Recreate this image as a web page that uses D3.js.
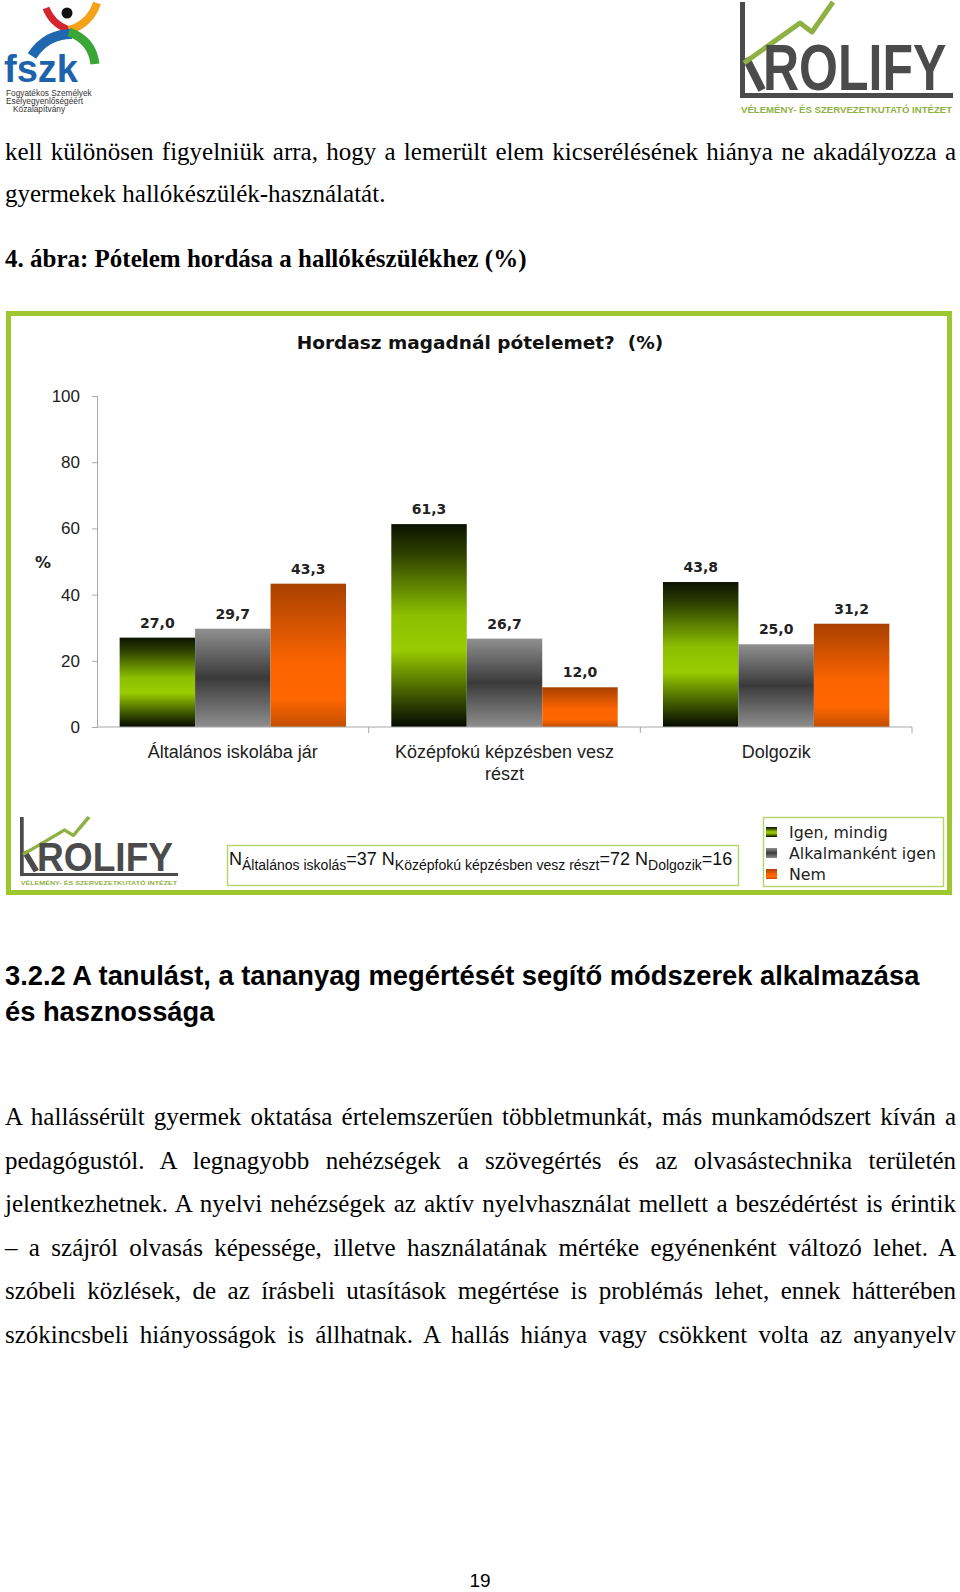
<!DOCTYPE html>
<html>
<head>
<meta charset="utf-8">
<script src="https://cdn.jsdelivr.net/npm/d3@7"></script>
<style>
  body { margin: 0; background: #fff; }
  svg { display: block; }
</style>
</head>
<body>
<div id="page"></div>
<script>
// ---- data ----
const categories = ['Általános iskolába jár', 'Középfokú képzésben vesz részt', 'Dolgozik'];
const seriesNames = ['Igen, mindig', 'Alkalmanként igen', 'Nem'];
const igenMindig = [27.0, 61.3, 43.8];
const alkalmankent = [29.7, 26.7, 25.0];
const nem = [43.3, 12.0, 31.2];
const yTicks = [0, 20, 40, 60, 80, 100];
const nGroups = ['Általános iskolás', 'Középfokú képzésben vesz részt', 'Dolgozik'];
const nValues = [37, 72, 16];

const topLines = [
  'kell különösen figyelniük arra, hogy a lemerült elem kicserélésének hiánya ne akadályozza a',
  'gyermekek hallókészülék-használatát.'
];
const figCaption = '4. ábra: Pótelem hordása a hallókészülékhez (%)';
const chartTitle = 'Hordasz magadnál pótelemet?  (%)';
const headingLines = [
  '3.2.2 A tanulást, a tananyag megértését segítő módszerek alkalmazása',
  'és hasznossága'
];
const paraLines = [
  'A hallássérült gyermek oktatása értelemszerűen többletmunkát, más munkamódszert kíván a',
  'pedagógustól. A legnagyobb nehézségek a szövegértés és az olvasástechnika területén',
  'jelentkezhetnek. A nyelvi nehézségek az aktív nyelvhasználat mellett a beszédértést is érintik',
  '– a szájról olvasás képessége, illetve használatának mértéke egyénenként változó lehet. A',
  'szóbeli közlések, de az írásbeli utasítások megértése is problémás lehet, ennek hátterében',
  'szókincsbeli hiányosságok is állhatnak. A hallás hiánya vagy csökkent volta az anyanyelv'
];

const series = seriesNames.map((name, i) => ({
  name, values: [igenMindig, alkalmankent, nem][i]
}));

const W = 960, H = 1592;
const svg = d3.select('#page').append('svg').attr('width', W).attr('height', H);
const defs = svg.append('defs');

// bar gradients (vertical, relative to each bar)
const gradStops = [
  [[0, '#0b1200'], [0.15, '#2e4200'], [0.45, '#8cc000'], [0.62, '#99cc00'], [0.85, '#3c5400'], [1, '#050800']],
  [[0, '#909090'], [0.5, '#3a3a3a'], [1, '#8e8e8e']],
  [[0, '#a94100'], [0.55, '#fb6400'], [0.8, '#ff6600'], [1, '#c44f00']]
];
gradStops.forEach((stops, i) => {
  const lg = defs.append('linearGradient').attr('id', 'g' + i)
    .attr('x1', 0).attr('y1', 0).attr('x2', 0).attr('y2', 1);
  stops.forEach(s => lg.append('stop').attr('offset', s[0]).attr('stop-color', s[1]));
});

const serif = '"Liberation Serif", "Times New Roman", serif';
const sans = '"Liberation Sans", Arial, sans-serif';
const tahoma = '"DejaVu Sans", Verdana, sans-serif';

// justify a line between x0 and x1 with word spacing
function justified(g, text, x0, x1, y, font, size, weight) {
  const t = g.append('text').attr('x', x0).attr('y', y)
    .style('font-family', font).style('font-size', size + 'px')
    .style('font-weight', weight || 400).attr('fill', '#000').text(text);
  const w = t.node().getComputedTextLength();
  const spaces = (text.match(/ /g) || []).length;
  if (spaces) t.attr('word-spacing', (x1 - x0 - w) / spaces);
  return t;
}

// ---- page text ----
const pageG = svg.append('g');
justified(pageG, topLines[0], 5, 956, 160, serif, 25);
pageG.append('text').attr('x', 5).attr('y', 202).style('font-family', serif)
  .style('font-size', '25px').text(topLines[1]);
pageG.append('text').attr('x', 5).attr('y', 267).style('font-family', serif)
  .style('font-size', '25px').style('font-weight', 700).text(figCaption);

headingLines.forEach((l, i) => {
  pageG.append('text').attr('x', 5).attr('y', 985 + i * 36).style('font-family', sans)
    .style('font-size', '27.3px').style('font-weight', 700).text(l);
});
paraLines.forEach((l, i) => {
  justified(pageG, l, 5, 956, 1125 + i * 43.6, serif, 25);
});
pageG.append('text').attr('x', 480).attr('y', 1587).attr('text-anchor', 'middle')
  .style('font-family', sans).style('font-size', '19px').text('19');

// ---- logos ----
function krolify(g) {
  const dark = '#4b4b4b';
  g.append('rect').attr('x', 0).attr('y', 0).attr('width', 5).attr('height', 96).attr('fill', dark);
  g.append('rect').attr('x', 0).attr('y', 91).attr('width', 213).attr('height', 5).attr('fill', dark);
  g.append('line').attr('x1', 6).attr('y1', 56).attr('x2', 22).attr('y2', 88)
    .attr('stroke', dark).attr('stroke-width', 8);
  g.append('polyline').attr('points', '4,61 60,21 72,30 93,0').attr('fill', 'none')
    .attr('stroke', '#8fb143').attr('stroke-width', 5).attr('stroke-linejoin', 'round');
  // narrow tall lettering: scale a bold face vertically
  g.append('text').attr('transform', 'translate(23,88) scale(1,1.3)')
    .style('font-family', sans).style('font-size', '50px').style('font-weight', 700)
    .attr('fill', dark).text('ROLIFY');
  g.append('text').attr('x', 1).attr('y', 111)
    .style('font-family', sans).style('font-size', '9.6px').style('font-weight', 700)
    .attr('fill', '#8fb143').text('VÉLEMÉNY- ÉS SZERVEZETKUTATÓ INTÉZET');
}
krolify(svg.append('g').attr('transform', 'translate(740,2)'));

// fszk logo
const fz = svg.append('g');
const arc = (d, c, w) => fz.append('path').attr('d', d).attr('fill', 'none')
  .attr('stroke', c).attr('stroke-width', w).attr('stroke-linecap', 'butt');
arc('M46,8 Q52,24 69,30', '#d3262e', 7);
arc('M97,3 Q90,24 69,30', '#f5a21b', 8);
arc('M32,56 Q46,34 72,34', '#1f68b0', 10);
arc('M69,32 Q92,40 95,64', '#3aa637', 9);
fz.append('circle').attr('cx', 67).attr('cy', 13).attr('r', 5.5).attr('fill', '#111');
fz.append('text').attr('x', 4).attr('y', 82).style('font-family', sans).style('font-weight', 700)
  .style('font-size', '38px').attr('fill', '#1d62ad').text('fszk');
['Fogyatékos Személyek', 'Esélyegyenlőségéért', 'Közalapítvány'].forEach((t, i) => {
  fz.append('text').attr('x', i === 2 ? 13 : 6).attr('y', 96 + i * 8).style('font-family', sans)
    .style('font-size', '8.3px').attr('fill', '#333').text(t);
});

// ---- chart ----
const chart = svg.append('g');
chart.append('rect').attr('x', 8.5).attr('y', 313.5).attr('width', 941).attr('height', 579)
  .attr('fill', '#fff').attr('stroke', '#9dc72e').attr('stroke-width', 5);

chart.append('text').attr('x', 480).attr('y', 349).attr('text-anchor', 'middle')
  .style('white-space', 'pre')
  .style('font-family', tahoma).style('font-size', '18.5px').style('font-weight', 700)
  .attr('fill', '#111').text(chartTitle);

const x0 = d3.scaleBand().domain(categories).range([97, 912]).paddingInner(0).paddingOuter(0);
const x1 = d3.scaleBand().domain(seriesNames).range([0, x0.bandwidth()]).paddingOuter(0.3);
const y = d3.scaleLinear().domain([0, 100]).range([727, 396]);

// y axis
const yAxis = chart.append('g').attr('transform', 'translate(97,0)')
  .call(d3.axisLeft(y).tickValues(yTicks).tickSize(5).tickPadding(12).tickFormat(d3.format('d')));
yAxis.select('.domain').attr('stroke', '#a8a8a8');
yAxis.selectAll('.tick line').attr('stroke', '#a8a8a8');
yAxis.selectAll('.tick text').style('font-family', sans).style('font-size', '17px').attr('fill', '#222');

chart.append('text').attr('x', 43).attr('y', 568).attr('text-anchor', 'middle')
  .style('font-family', tahoma).style('font-size', '16px').style('font-weight', 700)
  .attr('fill', '#222').text('%');

// bars
const groups = chart.selectAll('g.grp').data(categories).enter().append('g')
  .attr('class', 'grp').attr('transform', d => `translate(${x0(d)},0)`);
const fmt = v => d3.format('.1f')(v).replace('.', ',');

groups.each(function (cat, ci) {
  const g = d3.select(this);
  series.forEach((s, si) => {
    const v = s.values[ci];
    g.append('rect').attr('x', x1(s.name)).attr('y', y(v))
      .attr('width', x1.bandwidth()).attr('height', y(0) - y(v)).attr('fill', `url(#g${si})`);
    g.append('text').attr('x', x1(s.name) + x1.bandwidth() / 2).attr('y', y(v) - 10)
      .attr('text-anchor', 'middle').style('font-family', tahoma).style('font-size', '14px')
      .style('font-weight', 700).attr('fill', '#222').text(fmt(v));
  });
});

// x baseline with boundary ticks
chart.append('line').attr('x1', 97).attr('x2', 912).attr('y1', y(0)).attr('y2', y(0)).attr('stroke', '#a8a8a8');
categories.forEach(c => {
  const xe = x0(c) + x0.bandwidth();
  chart.append('line').attr('x1', xe).attr('x2', xe).attr('y1', y(0)).attr('y2', y(0) + 6).attr('stroke', '#a8a8a8');
});

// category labels (wrapped)
function wrapLabel(text, maxW) {
  const words = text.split(' ');
  const lines = [];
  let cur = '';
  const probe = chart.append('text').style('font-family', sans).style('font-size', '18px');
  words.forEach(w => {
    const test = cur ? cur + ' ' + w : w;
    probe.text(test);
    if (probe.node().getComputedTextLength() > maxW && cur) { lines.push(cur); cur = w; }
    else cur = test;
  });
  lines.push(cur);
  probe.remove();
  return lines;
}
categories.forEach(c => {
  const lines = wrapLabel(c, 230);
  const t = chart.append('text').attr('text-anchor', 'middle').style('font-family', sans)
    .style('font-size', '18px').attr('fill', '#222');
  lines.forEach((l, i) => {
    t.append('tspan').attr('x', x0(c) + x0.bandwidth() / 2).attr('y', 758 + i * 22).text(l);
  });
});

// sample size box
chart.append('rect').attr('x', 227.5).attr('y', 845.5).attr('width', 511).attr('height', 40)
  .attr('fill', '#fff').attr('stroke', '#b8d56c').attr('stroke-width', 1.5);
const nText = chart.append('text').attr('x', 229).attr('y', 865).style('font-family', sans)
  .style('font-size', '18px').attr('fill', '#111');
nGroups.forEach((grp, i) => {
  nText.append('tspan').text((i ? ' ' : '') + 'N');
  nText.append('tspan').attr('dy', 5).style('font-size', '14px').text(grp);
  nText.append('tspan').attr('dy', -5).text('=' + nValues[i]);
});

// legend
chart.append('rect').attr('x', 763.5).attr('y', 817.5).attr('width', 180).attr('height', 69)
  .attr('fill', '#fff').attr('stroke', '#b8d56c').attr('stroke-width', 1.5);
seriesNames.forEach((name, i) => {
  const cy = 832 + i * 21;
  chart.append('rect').attr('x', 766).attr('y', cy - 5).attr('width', 11).attr('height', 10)
    .attr('fill', `url(#g${i})`);
  chart.append('text').attr('x', 789).attr('y', cy + 6).style('font-family', tahoma)
    .style('font-size', '15.8px').attr('fill', '#222').text(name);
});

// small logo inside frame
krolify(chart.append('g').attr('transform', 'translate(20,817) scale(0.742,0.615)'));
</script>
</body>
</html>
